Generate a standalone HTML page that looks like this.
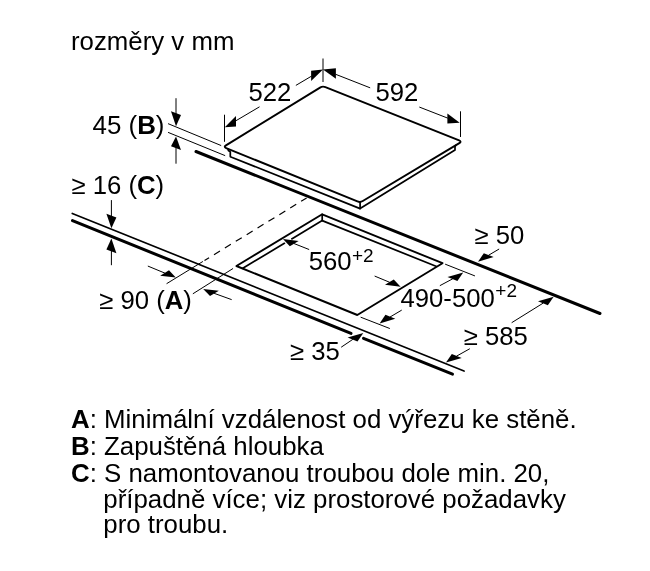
<!DOCTYPE html>
<html><head><meta charset="utf-8"><style>
html,body{margin:0;padding:0;background:#fff;width:650px;height:571px;overflow:hidden}
svg{position:absolute;left:0;top:0;will-change:transform}
text{font-family:"Liberation Sans",sans-serif;fill:#000}
.leg{position:absolute;left:70.5px;font-family:"Liberation Sans",sans-serif;font-size:25.85px;line-height:30px;color:#000;white-space:nowrap;will-change:transform}
.leg div{position:absolute;left:0}
</style></head><body>
<svg width="650" height="571" viewBox="0 0 650 571">
<path d="M226.18,148.03 Q223.4,146.9 225.96,145.33 L320.04,87.57 Q322.6,86 325.39,87.11 L459.11,140.49 Q461.9,141.6 459.33,143.14 L362.77,201.06 Q360.2,202.6 357.42,201.47 Z" fill="none" stroke="#000" stroke-width="1.9" stroke-linejoin="round" />
<line x1="360.1" y1="202" x2="360.1" y2="208.6" stroke="#000" stroke-width="1.71" stroke-linecap="round" />
<path d="M228.0,148.5 L228.4,150.5 L230.3,151.9 L230.3,156.6 L231.6,157.2 L360.1,208.6 L455.0,150.0 L455.0,146.7 L456.0,144.8" fill="none" stroke="#000" stroke-width="1.71" stroke-linejoin="round" />
<line x1="196" y1="151.5" x2="600" y2="313.5" stroke="#000" stroke-width="3.0" stroke-linecap="round" />
<line x1="72.3" y1="213.4" x2="464" y2="371.1" stroke="#000" stroke-width="1.65" stroke-linecap="round" />
<line x1="72.5" y1="220.6" x2="351" y2="333.4" stroke="#000" stroke-width="3.0" stroke-linecap="round" />
<line x1="363.5" y1="338.3" x2="452.5" y2="374.2" stroke="#000" stroke-width="3.0" stroke-linecap="round" />
<path d="M236.4,266 L322.2,214.3 L442.5,263.2 L357.3,315 Z" fill="none" stroke="#000" stroke-width="1.9" stroke-linejoin="round" />
<line x1="242.8" y1="268.3" x2="284.4" y2="243.31" stroke="#000" stroke-width="1.71" stroke-linecap="round" />
<path d="M291.3,239.16 L322.2,220.6 L436.6,266.5" fill="none" stroke="#000" stroke-width="1.71" stroke-linejoin="round" />
<line x1="322.2" y1="214.3" x2="322.2" y2="220.6" stroke="#000" stroke-width="1.71" stroke-linecap="round" />
<line x1="166.9" y1="283.5" x2="202.6" y2="261.65" stroke="#000" stroke-width="1.0" stroke-linecap="round" />
<line x1="204.5" y1="260.49" x2="306.6" y2="198" stroke="#000" stroke-width="1.2"  stroke-linecap="butt" stroke-dasharray="7 5.77" stroke-dashoffset="1.64"/>
<line x1="193.2" y1="293.6" x2="232.7" y2="268.7" stroke="#000" stroke-width="1.0" stroke-linecap="round" />
<line x1="176" y1="98.6" x2="176" y2="115" stroke="#000" stroke-width="1.0" stroke-linecap="round" />
<line x1="176" y1="145" x2="176" y2="163.3" stroke="#000" stroke-width="1.0" stroke-linecap="round" />
<polygon points="176,126.2 181,115 171,111.2" fill="#000"/>
<polygon points="176,136.4 181,150 171,146.2" fill="#000"/>
<line x1="168.4" y1="123.8" x2="220.8" y2="145.4" stroke="#000" stroke-width="1.0" stroke-linecap="round" />
<line x1="168.4" y1="132.5" x2="224.8" y2="155.5" stroke="#000" stroke-width="1.0" stroke-linecap="round" />
<line x1="111.4" y1="200.5" x2="111.4" y2="220" stroke="#000" stroke-width="1.0" stroke-linecap="round" />
<line x1="111.4" y1="245" x2="111.4" y2="264.8" stroke="#000" stroke-width="1.0" stroke-linecap="round" />
<polygon points="111.4,228.3 116.4,217.5 106.4,213.7" fill="#000"/>
<polygon points="111.4,238.6 116.4,253.3 106.4,249.5" fill="#000"/>
<line x1="224.5" y1="115.1" x2="224.5" y2="141.4" stroke="#000" stroke-width="1.0" stroke-linecap="round" />
<line x1="323" y1="58.9" x2="323" y2="81.6" stroke="#000" stroke-width="1.0" stroke-linecap="round" />
<line x1="236" y1="120.7" x2="259.2" y2="107" stroke="#000" stroke-width="1.0" stroke-linecap="round" />
<line x1="296.2" y1="85.2" x2="311.1" y2="76.4" stroke="#000" stroke-width="1.0" stroke-linecap="round" />
<polygon points="224.8,127.3 236,126.6 236,116.1" fill="#000"/>
<polygon points="323,69.4 311.1,80.9 311.1,70.8" fill="#000"/>
<line x1="460.5" y1="111.7" x2="460.5" y2="136.6" stroke="#000" stroke-width="1.0" stroke-linecap="round" />
<line x1="335.9" y1="74.4" x2="369.8" y2="87.7" stroke="#000" stroke-width="1.0" stroke-linecap="round" />
<line x1="419.7" y1="107.2" x2="447.4" y2="118" stroke="#000" stroke-width="1.0" stroke-linecap="round" />
<polygon points="323,69.4 335.9,78.8 335.9,68.3" fill="#000"/>
<polygon points="459.7,122.8 447.4,123.4 447.4,113.5" fill="#000"/>
<polygon points="175.8,277.5 168.97,270.3 160.18,275.66" fill="#000"/>
<line x1="164.58" y1="272.98" x2="148.2" y2="266.2" stroke="#000" stroke-width="1.0" stroke-linecap="round" />
<polygon points="203.2,288.9 218.82,290.74 210.03,296.1" fill="#000"/>
<line x1="214.42" y1="293.42" x2="231.3" y2="299.5" stroke="#000" stroke-width="1.0" stroke-linecap="round" />
<polygon points="283,239.1 298.62,240.94 289.83,246.3" fill="#000"/>
<line x1="294.22" y1="243.62" x2="308.8" y2="249.4" stroke="#000" stroke-width="1.0" stroke-linecap="round" />
<polygon points="400.6,286.7 393.77,279.5 384.98,284.86" fill="#000"/>
<line x1="389.38" y1="282.18" x2="375" y2="276.2" stroke="#000" stroke-width="1.0" stroke-linecap="round" />
<line x1="445.5" y1="264.3" x2="474.6" y2="275.8" stroke="#000" stroke-width="1.0" stroke-linecap="round" />
<line x1="361" y1="317.3" x2="389.5" y2="328.4" stroke="#000" stroke-width="1.0" stroke-linecap="round" />
<polygon points="463.2,272.4 457.36,280.94 447.53,276.98" fill="#000"/>
<line x1="452.44" y1="278.96" x2="440.2" y2="285.5" stroke="#000" stroke-width="1.0" stroke-linecap="round" />
<polygon points="379.6,323.4 395.27,318.82 385.44,314.86" fill="#000"/>
<line x1="390.36" y1="316.84" x2="401.4" y2="310.3" stroke="#000" stroke-width="1.0" stroke-linecap="round" />
<polygon points="363.3,333 357.46,341.54 347.63,337.58" fill="#000"/>
<line x1="352.54" y1="339.56" x2="341.5" y2="347" stroke="#000" stroke-width="1.0" stroke-linecap="round" />
<polygon points="478,261.7 493.67,257.12 483.84,253.16" fill="#000"/>
<line x1="488.76" y1="255.14" x2="498.8" y2="249.2" stroke="#000" stroke-width="1.0" stroke-linecap="round" />
<polygon points="446,362.6 461.67,358.02 451.84,354.06" fill="#000"/>
<line x1="456.76" y1="356.04" x2="469.5" y2="348.9" stroke="#000" stroke-width="1.0" stroke-linecap="round" />
<polygon points="553.7,296.7 547.86,305.24 538.03,301.28" fill="#000"/>
<line x1="542.94" y1="303.26" x2="512" y2="322.5" stroke="#000" stroke-width="1.0" stroke-linecap="round" />
<text x="71" y="50.3" font-size="25.8" text-anchor="start">rozměry v mm</text>
<text x="248.5" y="101.2" font-size="25.7" text-anchor="start">522</text>
<text x="375.5" y="101.4" font-size="25.7" text-anchor="start">592</text>
<text x="92.5" y="133.5" font-size="25.9" text-anchor="start">45 (<tspan font-weight="bold">B</tspan>)</text>
<text x="71.5" y="194.2" font-size="25.7" text-anchor="start">≥ 16 (<tspan font-weight="bold">C</tspan>)</text>
<text x="99.2" y="308.9" font-size="25.7" text-anchor="start">≥ 90 (<tspan font-weight="bold">A</tspan>)</text>
<text x="308.8" y="270.2" font-size="25.7" text-anchor="start">560</text>
<text x="352" y="261.8" font-size="19" text-anchor="start">+2</text>
<text x="400.5" y="307.1" font-size="25.7" text-anchor="start">490-500</text>
<text x="495.3" y="297.4" font-size="19" text-anchor="start">+2</text>
<text x="290" y="360.2" font-size="25.7" text-anchor="start">≥ 35</text>
<text x="474.5" y="243.5" font-size="25.7" text-anchor="start">≥ 50</text>
<text x="463.8" y="344.8" font-size="25.7" text-anchor="start">≥ 585</text>
</svg>
<div class="leg" style="top:403.8px">
<div style="top:0px"><b>A</b>: Minimální vzdálenost od výřezu ke stěně.</div>
<div style="top:26.9px"><b>B</b>: Zapuštěná hloubka</div>
<div style="top:53.8px"><b>C</b>: S namontovanou troubou dole min. 20,</div>
<div style="top:80.0px;left:32.3px">případně více; viz prostorové požadavky</div>
<div style="top:104.8px;left:32.3px">pro troubu.</div>
</div>
</body></html>
